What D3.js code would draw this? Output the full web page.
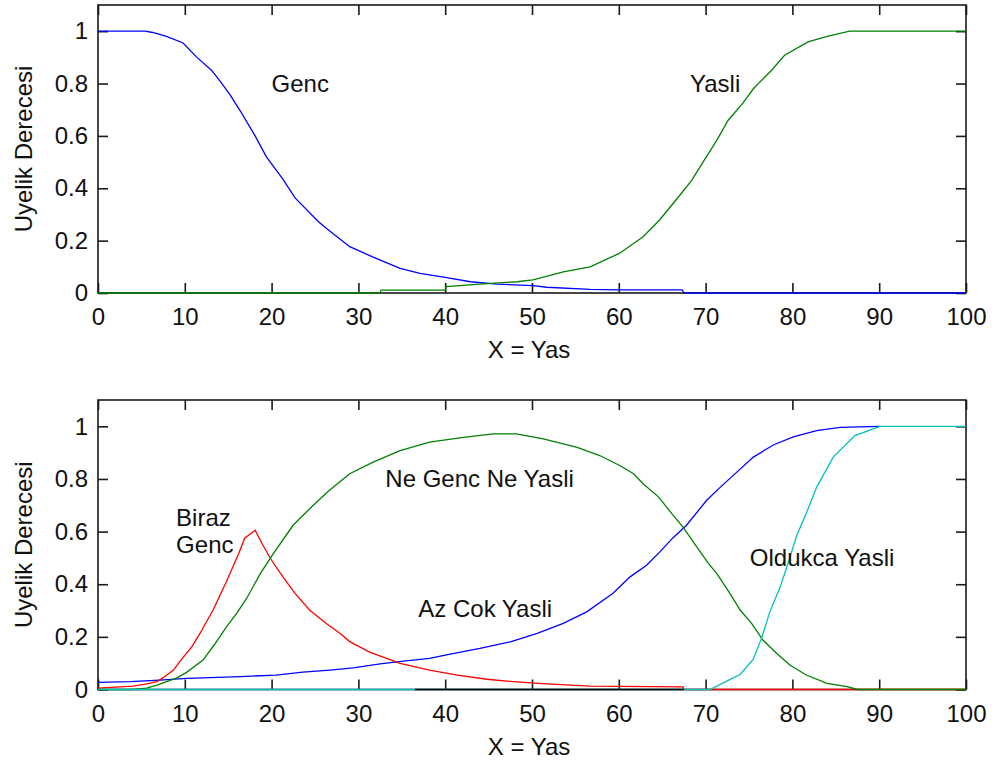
<!DOCTYPE html>
<html>
<head>
<meta charset="utf-8">
<script src="https://cdn.jsdelivr.net/npm/d3@7"></script>
<style>
  body { margin: 0; background: #fff; }
  svg { display: block; font-family: "Liberation Sans", Arial, sans-serif; }
</style>
</head>
<body>
<div id="chart"></div>
<script>
// x ticks / y ticks
const xTicks = [0, 10, 20, 30, 40, 50, 60, 70, 80, 90, 100];
const yTicks = [0, 0.2, 0.4, 0.6, 0.8, 1];

// Top panel: Genc (blue) and Yasli (green)
const gencX = [0, 5.4, 6.3, 7.9, 9.8, 11.4, 13.1, 14.1, 15.2, 16.4, 18.1, 19.4, 21.3, 22.7, 25.4, 26.3, 29, 31.7, 34.8, 37.1, 40, 42.9, 46, 50.1, 51.7, 56.7, 60, 67.3, 67.5, 100];
const gencY = [1, 1, 0.995, 0.98, 0.955, 0.9, 0.85, 0.807, 0.758, 0.695, 0.6, 0.52, 0.435, 0.363, 0.272, 0.247, 0.177, 0.137, 0.094, 0.075, 0.06, 0.043, 0.034, 0.028, 0.022, 0.014, 0.012, 0.012, 0, 0];
const yasliX = [0, 32.5, 32.6, 40, 40.1, 44, 48.3, 50.1, 53.6, 56.7, 60.1, 62.8, 64.7, 66.7, 68.4, 69.7, 71.3, 72.6, 74.3, 75.5, 77.6, 79.1, 81.8, 84, 86.6, 100];
const yasliY = [0, 0, 0.011, 0.011, 0.024, 0.034, 0.043, 0.05, 0.081, 0.1, 0.152, 0.215, 0.279, 0.36, 0.43, 0.5, 0.584, 0.66, 0.725, 0.78, 0.851, 0.908, 0.959, 0.98, 1, 1];

// Bottom panel
const birazX = [0, 4.1, 5.6, 6.8, 7.5, 8.7, 9.5, 10.8, 11.75, 13.3, 14.8, 16.2, 16.9, 18.1, 19, 20, 21.3, 22.7, 24.4, 26.3, 27.9, 29, 31.3, 34.8, 38.2, 41.4, 44.8, 47.8, 51.7, 56.7, 67.4, 67.5, 100];
const birazY = [0.005, 0.013, 0.021, 0.03, 0.045, 0.074, 0.11, 0.162, 0.213, 0.305, 0.41, 0.516, 0.575, 0.605, 0.548, 0.491, 0.428, 0.365, 0.301, 0.251, 0.213, 0.182, 0.142, 0.099, 0.074, 0.055, 0.039, 0.03, 0.021, 0.013, 0.01, 0, 0];
const neGencX = [0, 4, 5.6, 6.8, 7.9, 9.1, 10.2, 12.1, 13.4, 14.8, 16, 17.1, 18.7, 20.2, 22.5, 24.8, 26.6, 27.9, 29, 31.7, 34.8, 38.2, 42.1, 45.5, 48.2, 51.3, 55.2, 57.8, 60.1, 61.7, 62.8, 64.6, 66.1, 67.4, 69, 70.3, 71.3, 72.8, 74, 75.3, 76.6, 78.2, 79.7, 81.6, 84, 86.3, 87.5, 100];
const neGencY = [0, 0, 0.005, 0.017, 0.03, 0.044, 0.065, 0.112, 0.17, 0.238, 0.29, 0.345, 0.44, 0.516, 0.625, 0.7, 0.755, 0.79, 0.82, 0.864, 0.908, 0.94, 0.958, 0.971, 0.971, 0.952, 0.92, 0.889, 0.851, 0.82, 0.782, 0.731, 0.668, 0.617, 0.541, 0.48, 0.44, 0.365, 0.301, 0.251, 0.188, 0.137, 0.093, 0.055, 0.023, 0.011, 0, 0];
const azCokX = [0, 3.7, 7.1, 10.2, 16.4, 20.5, 23.6, 26.7, 29.4, 32.5, 35.2, 38.2, 40, 44, 47.5, 50.6, 53.6, 56.3, 59.3, 61.3, 63.2, 64.7, 66.2, 67.8, 70.1, 71.7, 73.6, 75.5, 77.8, 80.1, 82.8, 85.5, 90.1];
const azCokY = [0.027, 0.03, 0.036, 0.042, 0.049, 0.055, 0.066, 0.074, 0.082, 0.097, 0.108, 0.118, 0.131, 0.156, 0.181, 0.213, 0.251, 0.295, 0.365, 0.428, 0.472, 0.522, 0.575, 0.624, 0.718, 0.769, 0.826, 0.883, 0.929, 0.96, 0.984, 0.996, 1];
const oldukcaX = [0, 70.5, 72.5, 74, 75.5, 76.5, 77.4, 78.6, 79.5, 80.5, 81.6, 82.8, 84.7, 87.2, 90.1, 100];
const oldukcaY = [0, 0, 0.033, 0.058, 0.115, 0.2, 0.295, 0.39, 0.48, 0.585, 0.67, 0.769, 0.883, 0.965, 1, 1];
// dark series lying on zero
const zeroX = [36.5, 67.5];
const zeroY = [0, 0];

const topSeries = [
  { xs: gencX, ys: gencY, color: "#0000ff" },
  { xs: yasliX, ys: yasliY, color: "#008000" }
];
const bottomSeries = [
  { xs: azCokX, ys: azCokY, color: "#0000ff" },
  { xs: birazX, ys: birazY, color: "#ff0000" },
  { xs: neGencX, ys: neGencY, color: "#008000" },
  { xs: oldukcaX, ys: oldukcaY, color: "#00bfbf" },
  { xs: zeroX, ys: zeroY, color: "#000000" }
];

const topNotes = [
  { lines: ["Genc"], x: 20, y: 0.8 },
  { lines: ["Yasli"], x: 68.2, y: 0.8 }
];
const bottomNotes = [
  { lines: ["Biraz", "Genc"], x: 9, y: 0.6 },
  { lines: ["Ne Genc Ne Yasli"], x: 33.1, y: 0.8 },
  { lines: ["Az Cok Yasli"], x: 36.9, y: 0.305 },
  { lines: ["Oldukca Yasli"], x: 75.1, y: 0.5 }
];

const W = 992, H = 763;
const svg = d3.select("#chart").append("svg")
  .attr("width", W).attr("height", H);
svg.append("rect").attr("width", W).attr("height", H).attr("fill", "#fff");

function drawPanel(top, bottom, series, notes) {
  const x = d3.scaleLinear().domain([0, 100]).range([98, 966]);
  const y = d3.scaleLinear().domain([0, 1.1]).range([bottom, top]);
  const g = svg.append("g");

  // box
  g.append("rect")
    .attr("x", 98).attr("y", top)
    .attr("width", 966 - 98).attr("height", bottom - top)
    .attr("fill", "none").attr("stroke", "#1a1a1a").attr("stroke-width", 1.6);

  const styleAxis = sel => {
    sel.select(".domain").remove();
    sel.selectAll("line").attr("stroke", "#1a1a1a").attr("stroke-width", 1.6);
    sel.selectAll("text").attr("fill", "#111").style("font-size", "24px")
      .style("font-family", "'Liberation Sans', Arial, sans-serif");
  };

  g.append("g").attr("transform", `translate(0,${bottom})`)
    .call(d3.axisBottom(x).tickValues(xTicks).tickSizeInner(-10).tickSizeOuter(0).tickPadding(15))
    .call(styleAxis);
  g.append("g").attr("transform", `translate(0,${top})`)
    .call(d3.axisTop(x).tickValues(xTicks).tickSizeInner(-10).tickSizeOuter(0).tickFormat(""))
    .call(styleAxis);
  g.append("g").attr("transform", "translate(98,0)")
    .call(d3.axisLeft(y).tickValues(yTicks).tickSizeInner(-10).tickSizeOuter(0).tickPadding(10).tickFormat(d3.format("")))
    .call(styleAxis);
  g.append("g").attr("transform", "translate(966,0)")
    .call(d3.axisRight(y).tickValues(yTicks).tickSizeInner(-10).tickSizeOuter(0).tickFormat(""))
    .call(styleAxis);

  // curves
  const line = d3.line().x(d => x(d[0])).y(d => y(d[1]));
  series.forEach(s => {
    g.append("path")
      .datum(d3.zip(s.xs, s.ys))
      .attr("d", line)
      .attr("fill", "none")
      .attr("stroke", s.color)
      .attr("stroke-width", 1.3);
  });

  // annotations
  notes.forEach(n => {
    const t = g.append("text")
      .attr("x", x(n.x))
      .attr("y", y(n.y))
      .attr("fill", "#111")
      .style("font-size", "24px");
    const lh = 27;
    const offset = -((n.lines.length - 1) * lh) / 2 + 8;
    n.lines.forEach((ln, i) => {
      t.append("tspan").attr("x", x(n.x))
        .attr("dy", i === 0 ? offset : lh)
        .text(ln);
    });
  });

  // axis labels
  g.append("text")
    .attr("x", 529).attr("y", bottom + 65)
    .attr("text-anchor", "middle").attr("fill", "#111")
    .style("font-size", "24px")
    .text("X = Yas");
  g.append("text")
    .attr("transform", `translate(32,${(top + bottom) / 2}) rotate(-90)`)
    .attr("text-anchor", "middle").attr("fill", "#111")
    .style("font-size", "24px")
    .text("Uyelik Derecesi");
}

drawPanel(5, 293, topSeries, topNotes);
drawPanel(400, 689.5, bottomSeries, bottomNotes);
</script>
</body>
</html>
